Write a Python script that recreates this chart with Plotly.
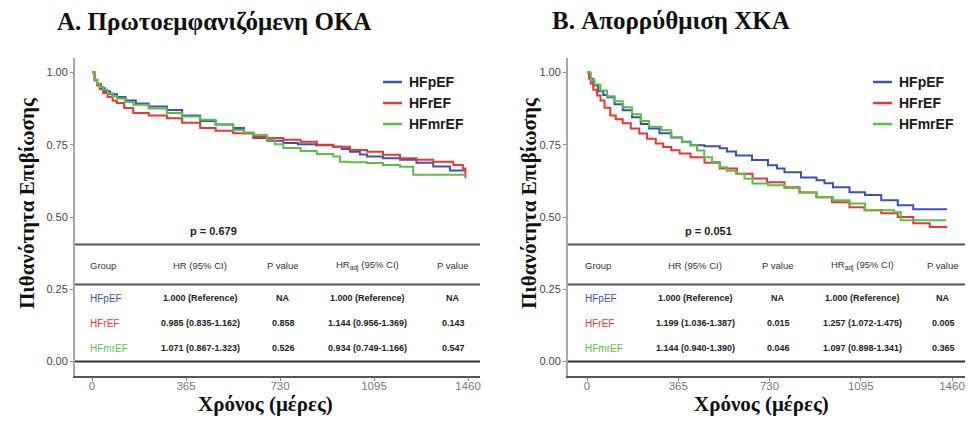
import plotly.graph_objects as go

# The page body keeps a default 8px margin, so the figure starts 8px in from the top-left corner.
OFF = 8
W, H = 973 - OFF, 424 - 2 * OFF

# ---------------- data ----------------
groups = ["HFpEF", "HFrEF", "HFmrEF"]
group_colors = ["#3f4fb5", "#ee3535", "#5cbf45"]

x_ticks = [0, 365, 730, 1095, 1460]
y_ticks = [0.0, 0.25, 0.5, 0.75, 1.0]
y_tick_labels = ["0.00", "0.25", "0.50", "0.75", "1.00"]

# Panel A: time (days) and survival probability
a_pef_t = [0, 10, 20, 35, 50, 70, 97, 130, 170, 220, 291, 350, 420, 480, 548, 590, 627, 680, 743, 800, 870, 937, 970, 1002, 1040, 1068, 1130, 1196, 1260, 1325, 1390, 1450]
a_pef_s = [1.0, 0.975, 0.96, 0.945, 0.935, 0.925, 0.915, 0.903, 0.893, 0.882, 0.870, 0.851, 0.832, 0.820, 0.808, 0.79, 0.773, 0.764, 0.756, 0.752, 0.748, 0.743, 0.735, 0.726, 0.716, 0.709, 0.703, 0.698, 0.688, 0.675, 0.661, 0.661]
a_ref_t = [0, 10, 20, 30, 43, 60, 80, 97, 125, 160, 220, 291, 350, 420, 480, 548, 627, 680, 743, 810, 873, 937, 1002, 1068, 1130, 1196, 1260, 1325, 1403, 1440, 1450]
a_ref_s = [1.0, 0.972, 0.955, 0.942, 0.929, 0.915, 0.902, 0.894, 0.877, 0.860, 0.851, 0.842, 0.826, 0.808, 0.798, 0.790, 0.778, 0.773, 0.767, 0.760, 0.750, 0.743, 0.732, 0.726, 0.715, 0.703, 0.698, 0.691, 0.680, 0.668, 0.635]
a_mref_t = [0, 10, 20, 30, 43, 60, 80, 97, 130, 160, 220, 291, 350, 420, 480, 548, 590, 627, 679, 710, 743, 810, 873, 937, 963, 1000, 1068, 1130, 1196, 1247, 1450]
a_mref_s = [1.0, 0.975, 0.962, 0.95, 0.94, 0.928, 0.918, 0.91, 0.898, 0.888, 0.875, 0.860, 0.848, 0.836, 0.82, 0.801, 0.792, 0.784, 0.767, 0.752, 0.739, 0.728, 0.718, 0.709, 0.691, 0.689, 0.687, 0.680, 0.674, 0.646, 0.646]

# Panel B
b_pef_t = [0, 10, 25, 45, 65, 81, 110, 143, 180, 215, 248, 290, 337, 380, 414, 470, 531, 560, 596, 660, 724, 760, 790, 856, 918, 950, 984, 1050, 1112, 1177, 1243, 1305, 1440]
b_pef_s = [1.0, 0.978, 0.955, 0.935, 0.922, 0.914, 0.89, 0.869, 0.845, 0.822, 0.806, 0.79, 0.775, 0.76, 0.748, 0.745, 0.738, 0.727, 0.713, 0.697, 0.679, 0.668, 0.655, 0.637, 0.627, 0.617, 0.603, 0.586, 0.576, 0.558, 0.541, 0.527, 0.527]
b_ref_t = [0, 8, 15, 25, 40, 54, 70, 93, 115, 143, 175, 209, 240, 275, 305, 337, 370, 414, 470, 531, 600, 662, 720, 790, 850, 918, 980, 1050, 1110, 1177, 1243, 1305, 1371, 1440]
b_ref_s = [1.0, 0.98, 0.962, 0.94, 0.92, 0.903, 0.878, 0.851, 0.838, 0.824, 0.806, 0.789, 0.771, 0.754, 0.742, 0.731, 0.72, 0.707, 0.688, 0.668, 0.65, 0.633, 0.62, 0.603, 0.585, 0.568, 0.551, 0.534, 0.523, 0.513, 0.5, 0.478, 0.465, 0.465]
b_mref_t = [0, 15, 30, 54, 80, 110, 143, 180, 215, 248, 298, 337, 380, 414, 440, 469, 500, 531, 560, 596, 630, 662, 724, 790, 850, 918, 984, 1050, 1112, 1228, 1255, 1437]
b_mref_s = [1.0, 0.975, 0.958, 0.938, 0.918, 0.9, 0.88, 0.855, 0.832, 0.812, 0.8, 0.775, 0.76, 0.748, 0.73, 0.707, 0.69, 0.672, 0.66, 0.65, 0.632, 0.616, 0.61, 0.6, 0.585, 0.568, 0.558, 0.547, 0.523, 0.516, 0.489, 0.489]

panel_titles = ["A. Πρωτοεμφανιζόμενη ΟΚΑ", "B. Απορρύθμιση ΧΚΑ"]
y_title = "Πιθανότητα Επιβίωσης"
x_title = "Χρόνος (μέρες)"
logrank_p = ["p = 0.679", "p = 0.051"]

table_headers = ["Group", "HR (95% CI)", "P value", "HR<sub>adj</sub> (95% CI)", "P value"]
a_hr = ["1.000 (Reference)", "0.985 (0.835-1.162)", "1.071 (0.867-1.323)"]
a_p = ["NA", "0.858", "0.526"]
a_hradj = ["1.000 (Reference)", "1.144 (0.956-1.369)", "0.934 (0.749-1.166)"]
a_padj = ["NA", "0.143", "0.547"]
b_hr = ["1.000 (Reference)", "1.199 (1.036-1.387)", "1.144 (0.940-1.390)"]
b_p = ["NA", "0.015", "0.046"]
b_hradj = ["1.000 (Reference)", "1.257 (1.072-1.475)", "1.097 (0.898-1.341)"]
b_padj = ["NA", "0.005", "0.365"]

# ---------------- layout helpers (window pixels -> paper fractions) ----------------
def px(x):
    return (x - OFF) / W

def py(y):
    return 1 - (y - OFF) / H

SANS = "Liberation Sans, Arial, sans-serif"
SERIF = "Liberation Serif, Times New Roman, serif"

fig = go.Figure()

panels = [
    dict(xa="x", ya="y", curves=[(a_pef_t, a_pef_s), (a_ref_t, a_ref_s), (a_mref_t, a_mref_s)],
         cols=[a_hr, a_p, a_hradj, a_padj]),
    dict(xa="x2", ya="y2", curves=[(b_pef_t, b_pef_s), (b_ref_t, b_ref_s), (b_mref_t, b_mref_s)],
         cols=[b_hr, b_p, b_hradj, b_padj]),
]

for p in panels:
    for (t, s), name, col in zip(p["curves"], groups, group_colors):
        fig.add_trace(go.Scatter(x=t, y=s, mode="lines", name=name, line=dict(color=col, width=2, shape="hv"),
                                 xaxis=p["xa"], yaxis=p["ya"], showlegend=False))

# pixel geometry of the two panels (window pixels)
geo = [
    dict(ax_left=75, ax_right=480, x0px=92, x1460px=468, title_x=55, title_y=22, ytitle_x=27, xtitle_x=265,
         p_x=213, leg_x=383, col_x=[88, 200, 283, 367, 453]),
    dict(ax_left=568, ax_right=973, x0px=587, x1460px=952, title_x=550, title_y=20, ytitle_x=529, xtitle_x=761,
         p_x=708, leg_x=873, col_x=[583, 695, 778, 862, 943]),
]
y_top_px, y_bot_px = 58.0, 376.0

axis_common = dict(showgrid=False, zeroline=False, showline=True, linewidth=2, ticks="outside",
                   ticklen=3, tickwidth=1)

layout_axes = {}
for i, g in enumerate(geo):
    k = (g["x1460px"] - g["x0px"]) / 1460.0
    xr = [-(g["x0px"] - g["ax_left"]) / k, (g["ax_right"] - g["x0px"]) / k]
    sfx = "" if i == 0 else "2"
    layout_axes["xaxis" + sfx] = dict(domain=[px(g["ax_left"]), min(1.0, px(g["ax_right"]))], range=xr,
                                      tickvals=x_ticks, ticktext=[str(v) for v in x_ticks],
                                      linecolor="#555555", tickcolor="#888888",
                                      tickfont=dict(family=SANS, size=11.5, color="#777777"),
                                      ticklabeloverflow="allow",
                                      anchor="y" + sfx, **axis_common)
    layout_axes["yaxis" + sfx] = dict(domain=[py(y_bot_px), py(y_top_px)], range=[-0.05, 1.05],
                                      tickvals=y_ticks, ticktext=y_tick_labels,
                                      linecolor="#a8a8a8", tickcolor="#888888",
                                      tickfont=dict(family=SANS, size=11, color="#474747"),
                                      anchor="x" + sfx, **axis_common)

# pull the x tick labels up closer to the axis line
for key in ("xaxis", "xaxis2"):
    try:
        go.layout.XAxis(ticklabelstandoff=-5)
        layout_axes[key]["ticklabelstandoff"] = -5
    except Exception:
        layout_axes[key]["ticklen"] = 1

shapes = []
annotations = []
row_y = [298, 323, 348]
for i, g in enumerate(geo):
    # titles
    annotations.append(dict(x=px(g["title_x"]), y=py(g["title_y"]), xref="paper", yref="paper",
                            text="<b>" + panel_titles[i] + "</b>", showarrow=False, xanchor="left",
                            yanchor="middle", font=dict(family=SERIF, size=25, color="#111111")))
    annotations.append(dict(x=px(g["ytitle_x"]), y=py(203), xref="paper", yref="paper",
                            text="<b>" + y_title + "</b>", showarrow=False, textangle=-90,
                            xanchor="center", yanchor="middle", font=dict(family=SERIF, size=21, color="#111111")))
    annotations.append(dict(x=px(g["xtitle_x"]), y=py(404), xref="paper", yref="paper",
                            text="<b>" + x_title + "</b>", showarrow=False,
                            xanchor="center", yanchor="middle", font=dict(family=SERIF, size=21, color="#111111")))
    # p-value
    annotations.append(dict(x=px(g["p_x"]), y=py(231), xref="paper", yref="paper",
                            text="<b>" + logrank_p[i] + "</b>", showarrow=False,
                            xanchor="center", yanchor="middle", font=dict(family=SANS, size=11, color="#222222")))
    # legend
    for j, (name, col) in enumerate(zip(groups, group_colors)):
        ly = 82 + 21 * j
        shapes.append(dict(type="line", xref="paper", yref="paper", x0=px(g["leg_x"]), x1=px(g["leg_x"] + 19),
                           y0=py(ly), y1=py(ly), line=dict(color=col, width=2.5)))
        annotations.append(dict(x=px(g["leg_x"] + 24), y=py(ly), xref="paper", yref="paper",
                                text="<b>" + name + "</b>", showarrow=False, xanchor="left", yanchor="middle",
                                font=dict(family=SANS, size=14, color="#1a1a1a")))
    # table lines
    for ly, lc in [(244.5, "#555555"), (284.5, "#555555"), (361.5, "#333333")]:
        shapes.append(dict(type="line", xref="paper", yref="paper", x0=px(g["ax_left"]),
                           x1=min(1.0, px(g["ax_right"])),
                           y0=py(ly), y1=py(ly), line=dict(color=lc, width=2)))
    # table header
    for c, htxt in enumerate(table_headers):
        annotations.append(dict(x=px(g["col_x"][c]), y=py(265), xref="paper", yref="paper", text=htxt,
                                showarrow=False, xanchor="left" if c == 0 else "center", yanchor="middle",
                                font=dict(family=SANS, size=9.5, color="#333333")))
    # table rows
    cols = panels[i]["cols"]
    for r in range(3):
        annotations.append(dict(x=px(g["col_x"][0]), y=py(row_y[r]), xref="paper", yref="paper",
                                text=groups[r], showarrow=False, xanchor="left", yanchor="middle",
                                font=dict(family=SANS, size=10, color=group_colors[r])))
        for c in range(4):
            annotations.append(dict(x=px(g["col_x"][c + 1]), y=py(row_y[r]), xref="paper", yref="paper",
                                    text="<b>" + cols[c][r] + "</b>", showarrow=False, xanchor="center",
                                    yanchor="middle", font=dict(family=SANS, size=9, color="#222222")))

fig.update_layout(width=W, height=H, margin=dict(l=0, r=0, t=0, b=0), paper_bgcolor="white",
                  plot_bgcolor="white", showlegend=False, shapes=shapes, annotations=annotations,
                  **layout_axes)

fig.write_html("out.html")
